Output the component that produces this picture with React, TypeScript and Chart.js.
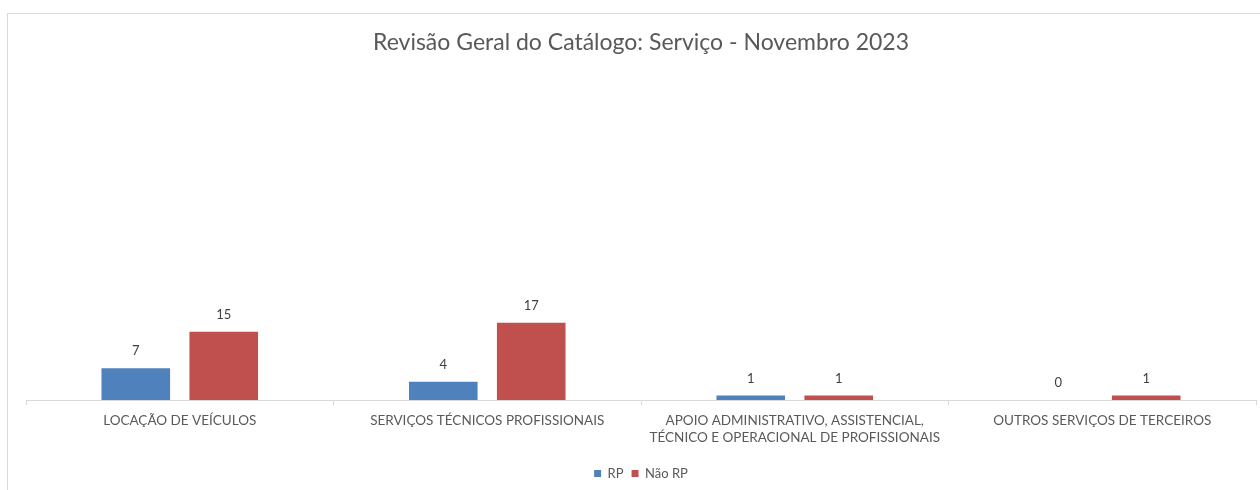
import React, { useEffect, useRef } from "react";
import { Chart, registerables } from "chart.js";

Chart.register(...registerables);

const TITLE = "Revisão Geral do Catálogo: Serviço - Novembro 2023";
const categories: (string | string[])[] = [
  "LOCAÇÃO DE VEÍCULOS",
  "SERVIÇOS TÉCNICOS PROFISSIONAIS",
  ["APOIO ADMINISTRATIVO, ASSISTENCIAL,", "TÉCNICO E OPERACIONAL DE PROFISSIONAIS"],
  "OUTROS SERVIÇOS DE TERCEIROS",
];
const seriesNames = ["RP", "Não RP"];
const rpValues = [7, 4, 1, 0];
const naoRpValues = [15, 17, 1, 1];

const FONT = "Lato, 'Open Sans', sans-serif";

const dataLabelPlugin = {
  id: "dataLabels",
  afterDatasetsDraw(chart: any) {
    const ctx = chart.ctx;
    ctx.save();
    ctx.font = `13px ${FONT}`;
    ctx.fillStyle = "#404040";
    ctx.textAlign = "center";
    ctx.textBaseline = "middle";
    chart.data.datasets.forEach((ds: any, i: number) => {
      const meta = chart.getDatasetMeta(i);
      meta.data.forEach((el: any, j: number) => {
        ctx.fillText(String(ds.data[j]), el.x, el.y - 17);
      });
    });
    ctx.restore();
  },
};

export default function App() {
  const ref = useRef<HTMLCanvasElement>(null);
  useEffect(() => {
    if (!ref.current) return;
    const chart = new Chart(ref.current, {
      type: "bar",
      data: {
        labels: categories,
        datasets: [
          {
            label: seriesNames[0],
            data: rpValues,
            backgroundColor: "#4F81BD",
            borderColor: "#4F81BD",
            borderWidth: 0,
          },
          {
            label: seriesNames[1],
            data: naoRpValues,
            backgroundColor: "#C0504D",
            borderColor: "#C0504D",
            borderWidth: 0,
          },
        ],
      },
      options: {
        responsive: false,
        animation: false,
        devicePixelRatio: 1,
        datasets: {
          bar: { categoryPercentage: 0.572, barPercentage: 0.78 },
        },
        layout: { padding: { left: 26, right: 4, top: 0, bottom: 0 } },
        plugins: {
          title: {
            display: true,
            text: TITLE,
            color: "#595959",
            font: { family: FONT, size: 23, weight: "normal" },
            padding: { top: 28.5, bottom: 7.2 },
          },
          legend: {
            display: true,
            position: "bottom",
            labels: {
              color: "#595959",
              font: { family: FONT, size: 13 },
              boxWidth: 7,
              boxHeight: 7,
              padding: 8,
            },
          },
          tooltip: { enabled: false },
        },
        scales: {
          x: {
            grid: {
              display: true,
              drawOnChartArea: false,
              drawTicks: true,
              tickLength: 5,
              color: "#d9d9d9",
              offset: true,
            },
            border: { display: true, color: "#d9d9d9", width: 1 },
            ticks: {
              color: "#595959",
              font: { family: FONT, size: 13.5, lineHeight: 1.26 },
              padding: 7.5,
              maxRotation: 0,
              autoSkip: false,
            },
            afterFit: (s: any) => {
              s.height = 59;
            },
          },
          y: {
            display: false,
            min: 0,
            max: 74,
          },
        },
      },
      plugins: [dataLabelPlugin],
    });
    return () => chart.destroy();
  }, []);

  return (
    <div
      style={{
        position: "fixed",
        left: 0,
        top: 0,
        width: 1260,
        height: 490,
        overflow: "hidden",
        background: "#fff",
      }}
    >
      <div
        style={{
          position: "absolute",
          left: 7,
          top: 13,
          width: 1300,
          height: 520,
          border: "1px solid #d9d9d9",
          boxSizing: "border-box",
        }}
      />
      <canvas
        ref={ref}
        width={1260}
        height={490}
        style={{ position: "absolute", left: 0, top: 0, width: 1260, height: 490 }}
      />
    </div>
  );
}
